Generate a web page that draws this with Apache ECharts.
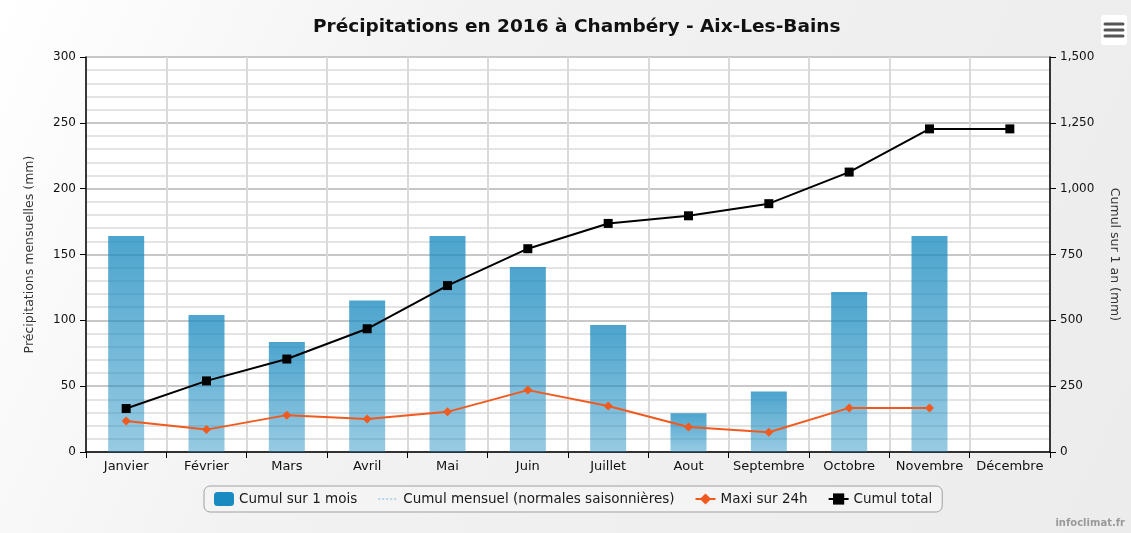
<!DOCTYPE html>
<html>
<head>
<meta charset="utf-8">
<title>Précipitations en 2016 à Chambéry - Aix-Les-Bains</title>
<script src="https://cdn.jsdelivr.net/npm/echarts@6/dist/echarts.min.js"></script>
<style>
  html, body { margin: 0; padding: 0; }
  #chart { width: 1131px; height: 533px; }
</style>
</head>
<body>
<div id="chart"></div>
<script>
// months (x axis)
const months = ['Janvier', 'Février', 'Mars', 'Avril', 'Mai', 'Juin', 'Juillet', 'Aout', 'Septembre', 'Octobre', 'Novembre', 'Décembre']
// monthly total, mm (left axis)
const cumulMois = [164, 104, 83.5, 115, 164, 140.5, 96.5, 29.5, 46, 121.5, 164, null]
// seasonal normals: no data shown on the picture
const normales = []
// max over 24h, mm (left axis)
const maxi24h = [23.5, 17, 28, 25, 30.5, 47, 35, 19, 15, 33.5, 33.5, null]
// running yearly total, mm (right axis)
const cumulTotal = [165, 270, 353, 468, 632, 772, 868, 897, 943, 1063, 1227, 1227]

const chart = echarts.init(document.getElementById('chart'))
const font = 'DejaVu Sans'

chart.setOption({
  backgroundColor: {
    type: 'linear', x: 0, y: 0, x2: 1, y2: 1,
    colorStops: [{ offset: 0, color: '#ffffff' }, { offset: 0.35, color: '#f2f2f2' }, { offset: 1, color: '#ececec' }],
  },
  textStyle: { fontFamily: font },
  title: {
    text: 'Précipitations en 2016 à Chambéry - Aix-Les-Bains',
    left: 308,
    top: 13,
    textStyle: { fontFamily: font, fontSize: 18.5, fontWeight: 'bold', color: '#111' },
  },
  grid: {
    left: 86, right: 81, top: 57, bottom: 81,
    show: true, backgroundColor: '#fff', borderWidth: 0,
  },
  legend: {
    bottom: 21,
    left: 204,
    padding: [6, 10],
    itemGap: 20,
    itemWidth: 20,
    itemHeight: 14,
    borderColor: '#a0a0a0',
    borderWidth: 1,
    borderRadius: 6,
    backgroundColor: '#f4f4f4',
    textStyle: { fontFamily: font, fontSize: 13.5, color: '#1a1a1a' },
    data: [
      { name: 'Cumul sur 1 mois', icon: 'roundRect', itemStyle: { color: '#1a8bc0' } },
      { name: 'Cumul mensuel (normales saisonnières)', itemStyle: { opacity: 0 } },
      { name: 'Maxi sur 24h' },
      { name: 'Cumul total' },
    ],
  },
  xAxis: {
    type: 'category',
    data: months,
    axisLine: { lineStyle: { color: '#000', width: 1.5 } },
    axisTick: { show: true, interval: 0, length: 6, lineStyle: { color: '#000' } },
    axisLabel: { interval: 0, color: '#111', fontSize: 13, margin: 8 },
    splitLine: { show: true, interval: 0, lineStyle: { color: '#dadada', width: 2 } },
  },
  yAxis: [
    {
      type: 'value',
      min: 0, max: 300, interval: 50,
      name: 'Précipitations mensuelles (mm)',
      nameLocation: 'middle',
      nameRotate: 90,
      nameGap: 50,
      nameTextStyle: { fontSize: 12.5, color: '#333' },
      axisLine: { show: true, lineStyle: { color: '#000', width: 1.5 } },
      axisTick: { show: true, length: 6, lineStyle: { color: '#000' } },
      axisLabel: { color: '#111', fontSize: 12, margin: 10 },
      splitLine: { lineStyle: { color: '#c8c8c8', width: 2 } },
      minorTick: { show: false, splitNumber: 5 },
      minorSplitLine: { show: true, lineStyle: { color: '#e4e4e4', width: 2 } },
    },
    {
      type: 'value',
      min: 0, max: 1500, interval: 250,
      position: 'right',
      name: 'Cumul sur 1 an (mm)',
      nameLocation: 'middle',
      nameRotate: -90,
      nameGap: 58,
      nameTextStyle: { fontSize: 12.5, color: '#333' },
      axisLine: { show: true, lineStyle: { color: '#000', width: 1.5 } },
      axisTick: { show: true, length: 6, lineStyle: { color: '#000' } },
      axisLabel: {
        color: '#111', fontSize: 12, margin: 10,
        formatter: (v) => v.toLocaleString('en-US'),
      },
      splitLine: { show: false },
    },
  ],
  series: [
    {
      name: 'Cumul sur 1 mois',
      type: 'bar',
      data: cumulMois,
      barWidth: 36,
      itemStyle: {
        color: {
          type: 'linear', x: 0, y: 0, x2: 0, y2: 1,
          colorStops: [{ offset: 0, color: 'rgba(26,139,192,0.78)' }, { offset: 1, color: 'rgba(26,139,192,0.45)' }],
        },
      },
      z: 1,
    },
    {
      name: 'Cumul mensuel (normales saisonnières)',
      type: 'line',
      data: normales,
      symbol: 'none',
      itemStyle: { color: '#b5d6e6' },
      lineStyle: { color: '#b5d6e6', type: 'dotted', width: 2 },
    },
    {
      name: 'Maxi sur 24h',
      type: 'line',
      data: maxi24h,
      symbol: 'diamond',
      symbolSize: 9,
      itemStyle: { color: '#f05a1e' },
      lineStyle: { color: '#f05a1e', width: 2 },
      z: 3,
    },
    {
      name: 'Cumul total',
      type: 'line',
      yAxisIndex: 1,
      data: cumulTotal,
      symbol: 'rect',
      symbolSize: 9,
      itemStyle: { color: '#000' },
      lineStyle: { color: '#000', width: 2 },
      z: 4,
    },
  ],
  graphic: [
    {
      type: 'group',
      right: 4,
      top: 15,
      children: [
        { type: 'rect', shape: { x: 0, y: 0, width: 26, height: 30, r: 3 }, style: { fill: '#fff' } },
        { type: 'line', shape: { x1: 4, y1: 9, x2: 22, y2: 9 }, style: { stroke: '#555', lineWidth: 3, lineCap: 'round' } },
        { type: 'line', shape: { x1: 4, y1: 15, x2: 22, y2: 15 }, style: { stroke: '#555', lineWidth: 3, lineCap: 'round' } },
        { type: 'line', shape: { x1: 4, y1: 21, x2: 22, y2: 21 }, style: { stroke: '#555', lineWidth: 3, lineCap: 'round' } },
      ],
    },
    {
      type: 'text',
      right: 6,
      bottom: 5,
      style: { text: 'infoclimat.fr', fill: '#999', font: 'bold 10px DejaVu Sans' },
    },
  ],
})
</script>
</body>
</html>
